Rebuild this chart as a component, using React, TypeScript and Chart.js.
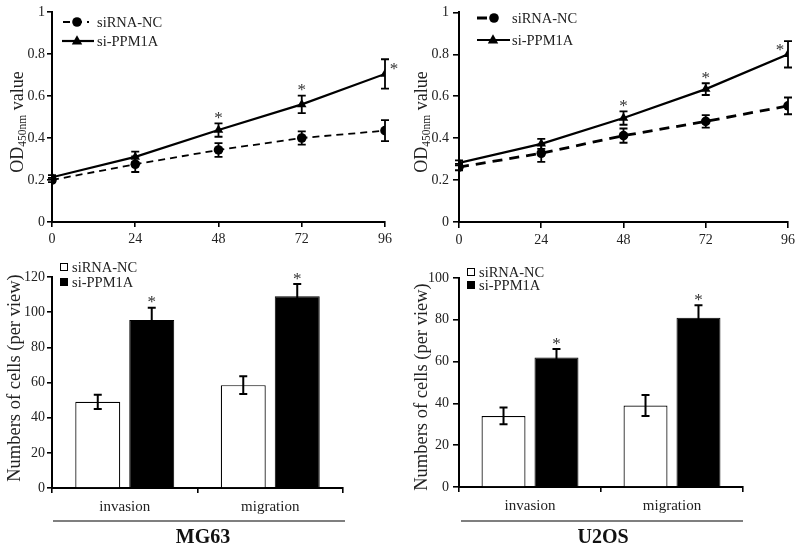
import React, { useEffect, useRef } from 'react';
import { Chart, registerables } from 'chart.js';

Chart.register(...registerables);

const FONT = "'Liberation Serif', 'Times New Roman', serif";
const TXT = '#222';

// ---------- Data: CCK-8 growth curves ----------
const hours = [0, 24, 48, 72, 96];
const hourTicks = ['0', '24', '48', '72', '96'];
const odTickValues = [0, 0.2, 0.4, 0.6, 0.8, 1];
const odTicks = ['0', '0.2', '0.4', '0.6', '0.8', '1'];
const seriesNames = ['siRNA-NC', 'si-PPM1A'];

const mg63NcOD = [0.2, 0.275, 0.343, 0.4, 0.435];
const mg63NcODErr = [0.01, 0.037, 0.033, 0.032, 0.05];
const mg63PpmOD = [0.213, 0.31, 0.438, 0.56, 0.705];
const mg63PpmODErr = [0.01, 0.025, 0.032, 0.042, 0.07];
const mg63ODSig = [false, false, true, true, true];

const u2osNcOD = [0.262, 0.328, 0.412, 0.48, 0.554];
const u2osNcODErr = [0.015, 0.041, 0.034, 0.03, 0.04];
const u2osPpmOD = [0.282, 0.373, 0.496, 0.634, 0.8];
const u2osPpmODErr = [0.012, 0.024, 0.032, 0.028, 0.063];
const u2osODSig = [false, false, true, true, true];

// ---------- Data: transwell ----------
const assays = ['invasion', 'migration'];
const mg63NcCells = [49, 58.5];
const mg63NcCellsErr = [4, 5];
const mg63PpmCells = [95.5, 109];
const mg63PpmCellsErr = [7, 7];
const mg63CellsSig = [true, true];

const u2osNcCells = [34, 39];
const u2osNcCellsErr = [4, 5];
const u2osPpmCells = [62, 81];
const u2osPpmCellsErr = [4, 6];
const u2osCellsSig = [true, true];

const cellLines = ['MG63', 'U2OS'];

// ---------- drawing helpers ----------
type Part = { text: string; size: number; shift?: number };

function drawRotatedTitle(ctx: CanvasRenderingContext2D, cx: number, cy: number, parts: Part[]) {
  ctx.save();
  ctx.translate(cx, cy);
  ctx.rotate(-Math.PI / 2);
  ctx.fillStyle = TXT;
  ctx.textAlign = 'left';
  ctx.textBaseline = 'alphabetic';
  let total = 0;
  const widths = parts.map((p) => {
    ctx.font = `${p.size}px ${FONT}`;
    const w = ctx.measureText(p.text).width;
    total += w;
    return w;
  });
  const base = parts[0].size * 0.34;
  let x = -total / 2;
  parts.forEach((p, i) => {
    ctx.font = `${p.size}px ${FONT}`;
    ctx.fillText(p.text, x, base + (p.shift || 0));
    x += widths[i];
  });
  ctx.restore();
}

function drawMarker(ctx: CanvasRenderingContext2D, kind: string, x: number, y: number, r: number) {
  ctx.fillStyle = '#000';
  ctx.beginPath();
  if (kind === 'circle') {
    ctx.arc(x, y, r, 0, Math.PI * 2);
  } else {
    ctx.moveTo(x, y - r * 1.1);
    ctx.lineTo(x - r, y + r * 0.65);
    ctx.lineTo(x + r, y + r * 0.65);
    ctx.closePath();
  }
  ctx.fill();
}

function drawErrBar(ctx: CanvasRenderingContext2D, x: number, yTop: number, yBot: number, cap: number, lw: number) {
  ctx.save();
  ctx.strokeStyle = '#000';
  ctx.lineWidth = lw;
  ctx.setLineDash([]);
  ctx.beginPath();
  ctx.moveTo(x, yTop);
  ctx.lineTo(x, yBot);
  ctx.moveTo(x - cap / 2, yTop);
  ctx.lineTo(x + cap / 2, yTop);
  ctx.moveTo(x - cap / 2, yBot);
  ctx.lineTo(x + cap / 2, yBot);
  ctx.stroke();
  ctx.restore();
}

function drawStar(ctx: CanvasRenderingContext2D, x: number, y: number) {
  ctx.save();
  ctx.fillStyle = '#333';
  ctx.font = `17px ${FONT}`;
  ctx.textAlign = 'center';
  ctx.textBaseline = 'middle';
  ctx.fillText('*', x, y + 3);
  ctx.restore();
}

// ---------- Line chart config ----------
type LegendRow = { y: number; x0: number; x1: number; mx: number; tx: number };
type LineParams = {
  nc: number[]; ncErr: number[]; ppm: number[]; ppmErr: number[]; sig: boolean[];
  padTop: number; yWidth: number; padRight: number; xHeight: number;
  tickLen: number; tickPad: number;
  ncWidth: number; ncDash: number[];
  titleX: number; titleY: number;
  legend: LegendRow[];
  lastStar: { dx: number; dy: number };
};

function lineConfig(p: LineParams): any {
  const axisCommon = {
    grid: { display: true, drawOnChartArea: false, drawTicks: true, tickLength: p.tickLen, color: '#000', lineWidth: 1.6 },
    border: { display: true, color: '#000', width: 2 },
  };
  const plugin = {
    id: 'decor',
    afterDatasetsDraw(chart: any) {
      const ctx: CanvasRenderingContext2D = chart.ctx;
      const ys = chart.scales.y;
      const errs = [p.ncErr, p.ppmErr];
      const vals = [p.nc, p.ppm];
      [0, 1].forEach((di) => {
        const meta = chart.getDatasetMeta(di);
        meta.data.forEach((el: any, i: number) => {
          const yt = ys.getPixelForValue(vals[di][i] + errs[di][i]);
          const yb = ys.getPixelForValue(vals[di][i] - errs[di][i]);
          drawErrBar(ctx, el.x, yt, yb, 8, 1.8);
        });
      });
      const meta = chart.getDatasetMeta(1);
      meta.data.forEach((el: any, i: number) => {
        if (!p.sig[i]) return;
        if (i === meta.data.length - 1) {
          drawStar(ctx, el.x + p.lastStar.dx, el.y + p.lastStar.dy);
        } else {
          const yt = ys.getPixelForValue(p.ppm[i] + p.ppmErr[i]);
          drawStar(ctx, el.x, yt - 8);
        }
      });
      // legend
      const kinds = ['circle', 'triangle'];
      p.legend.forEach((row, k) => {
        ctx.save();
        ctx.strokeStyle = '#000';
        ctx.lineWidth = k === 0 ? p.ncWidth : 2.2;
        ctx.setLineDash(k === 0 ? p.ncDash : []);
        ctx.beginPath();
        ctx.moveTo(row.x0, row.y);
        ctx.lineTo(row.x1, row.y);
        ctx.stroke();
        ctx.setLineDash([]);
        drawMarker(ctx, kinds[k], row.mx, row.y, k === 0 ? 4.8 : 5.2);
        ctx.fillStyle = TXT;
        ctx.font = `14.5px ${FONT}`;
        ctx.textAlign = 'left';
        ctx.textBaseline = 'middle';
        ctx.fillText(seriesNames[k], row.tx, row.y + 1);
        ctx.restore();
      });
      drawRotatedTitle(ctx, p.titleX, p.titleY, [
        { text: 'OD', size: 18 },
        { text: '450nm', size: 11.5, shift: 3 },
        { text: ' value', size: 18 },
      ]);
    },
  };
  return {
    type: 'line',
    data: {
      datasets: [
        {
          label: seriesNames[0],
          data: hours.map((h, i) => ({ x: h, y: p.nc[i] })),
          borderColor: '#000', borderWidth: p.ncWidth, borderDash: p.ncDash,
          pointStyle: 'circle', pointRadius: 4.8, pointBackgroundColor: '#000', pointBorderColor: '#000', pointBorderWidth: 0,
          tension: 0, fill: false,
        },
        {
          label: seriesNames[1],
          data: hours.map((h, i) => ({ x: h, y: p.ppm[i] })),
          borderColor: '#000', borderWidth: 2.2,
          pointStyle: 'triangle', pointRadius: 5.5, pointBackgroundColor: '#000', pointBorderColor: '#000', pointBorderWidth: 0,
          tension: 0, fill: false,
        },
      ],
    },
    options: {
      responsive: false,
      animation: false,
      events: [],
      layout: { padding: { top: p.padTop, right: p.padRight, left: 0, bottom: 0 } },
      plugins: { legend: { display: false }, tooltip: { enabled: false } },
      scales: {
        x: {
          type: 'linear', min: 0, max: 96, offset: false,
          ticks: {
            stepSize: 24, color: TXT, font: { family: FONT, size: 14 }, padding: 4, maxRotation: 0,
            callback: (v: number) => { const k = hours.indexOf(v); return k >= 0 ? hourTicks[k] : ''; },
          },
          ...axisCommon,
          afterFit: (s: any) => { s.height = p.xHeight; },
        },
        y: {
          type: 'linear', min: 0, max: 1,
          ticks: {
            stepSize: 0.2, color: TXT, font: { family: FONT, size: 14 }, padding: p.tickPad,
            callback: (v: number) => {
              const k = odTickValues.findIndex((t) => Math.abs(t - v) < 1e-6);
              return k >= 0 ? odTicks[k] : '';
            },
          },
          ...axisCommon,
          afterFit: (s: any) => { s.width = p.yWidth; },
        },
      },
    },
    plugins: [plugin],
  };
}

// ---------- Bar chart config ----------
type BarParams = {
  nc: number[]; ncErr: number[]; ppm: number[]; ppmErr: number[]; sig: boolean[];
  yMax: number; group: string;
  padTop: number; yWidth: number; padRight: number; xHeight: number;
  tickLen: number; tickPad: number;
  catPct: number; barPct: number;
  titleX: number; titleY: number;
  legendX: number; legendY: number[];
  lineX0: number; lineX1: number; lineY: number; groupX: number; groupY: number;
};

function barConfig(p: BarParams): any {
  const axisCommon = {
    border: { display: true, color: '#000', width: 2 },
  };
  const plugin = {
    id: 'decorBar',
    afterDatasetsDraw(chart: any) {
      const ctx: CanvasRenderingContext2D = chart.ctx;
      const ys = chart.scales.y;
      const errs = [p.ncErr, p.ppmErr];
      const vals = [p.nc, p.ppm];
      [0, 1].forEach((di) => {
        chart.getDatasetMeta(di).data.forEach((el: any, i: number) => {
          const yt = ys.getPixelForValue(vals[di][i] + errs[di][i]);
          const yb = ys.getPixelForValue(vals[di][i] - errs[di][i]);
          drawErrBar(ctx, el.x, yt, yb, 8, 2);
          if (di === 1 && p.sig[i]) drawStar(ctx, el.x, yt - 8);
        });
      });
      // legend
      p.legendY.forEach((y, k) => {
        ctx.save();
        ctx.fillStyle = k === 0 ? '#fff' : '#000';
        ctx.strokeStyle = '#000';
        ctx.lineWidth = 1;
        ctx.fillRect(p.legendX, y - 4, 8, 8);
        ctx.strokeRect(p.legendX + 0.5, y - 3.5, 7, 7);
        ctx.fillStyle = TXT;
        ctx.font = `14.5px ${FONT}`;
        ctx.textAlign = 'left';
        ctx.textBaseline = 'middle';
        ctx.fillText(seriesNames[k], p.legendX + 12, y + 1);
        ctx.restore();
      });
      // group underline + name
      ctx.save();
      ctx.strokeStyle = '#555';
      ctx.lineWidth = 1.5;
      ctx.beginPath();
      ctx.moveTo(p.lineX0, p.lineY);
      ctx.lineTo(p.lineX1, p.lineY);
      ctx.stroke();
      ctx.fillStyle = '#111';
      ctx.font = `bold 20px ${FONT}`;
      ctx.textAlign = 'center';
      ctx.textBaseline = 'middle';
      ctx.fillText(p.group, p.groupX, p.groupY);
      ctx.restore();
      drawRotatedTitle(ctx, p.titleX, p.titleY, [{ text: 'Numbers of cells (per view)', size: 18.5 }]);
    },
  };
  return {
    type: 'bar',
    data: {
      labels: assays,
      datasets: [
        { label: seriesNames[0], data: p.nc, backgroundColor: '#fff', borderColor: '#000', borderWidth: 1.2,
          categoryPercentage: p.catPct, barPercentage: p.barPct },
        { label: seriesNames[1], data: p.ppm, backgroundColor: '#000', borderColor: '#000', borderWidth: 1,
          categoryPercentage: p.catPct, barPercentage: p.barPct },
      ],
    },
    options: {
      responsive: false,
      animation: false,
      events: [],
      layout: { padding: { top: p.padTop, right: p.padRight, left: 0, bottom: 0 } },
      plugins: { legend: { display: false }, tooltip: { enabled: false } },
      scales: {
        x: {
          type: 'category', offset: true,
          grid: { display: true, offset: true, drawOnChartArea: false, drawTicks: true, tickLength: 5, color: '#000', lineWidth: 1.6 },
          ticks: { color: TXT, font: { family: FONT, size: 15 }, padding: 5, maxRotation: 0 },
          ...axisCommon,
          afterFit: (s: any) => { s.height = p.xHeight; },
        },
        y: {
          type: 'linear', min: 0, max: p.yMax,
          grid: { display: true, drawOnChartArea: false, drawTicks: true, tickLength: p.tickLen, color: '#000', lineWidth: 1.6 },
          ticks: { stepSize: 20, color: TXT, font: { family: FONT, size: 14 }, padding: p.tickPad },
          ...axisCommon,
          afterFit: (s: any) => { s.width = p.yWidth; },
        },
      },
    },
    plugins: [plugin],
  };
}

// ---------- Components ----------
function ChartCanvas(props: { make: () => any; left: number; top: number; width: number; height: number }) {
  const ref = useRef<HTMLCanvasElement>(null);
  useEffect(() => {
    const chart = new Chart(ref.current as HTMLCanvasElement, props.make());
    return () => chart.destroy();
  }, []);
  return (
    <canvas
      ref={ref}
      width={props.width}
      height={props.height}
      style={{ position: 'absolute', left: props.left, top: props.top, width: props.width, height: props.height }}
    />
  );
}

const makeA = () =>
  lineConfig({
    nc: mg63NcOD, ncErr: mg63NcODErr, ppm: mg63PpmOD, ppmErr: mg63PpmODErr, sig: mg63ODSig,
    padTop: 12, yWidth: 52, padRight: 15, xHeight: 28, tickLen: 5, tickPad: 2,
    ncWidth: 1.8, ncDash: [7, 5],
    titleX: 17, titleY: 122,
    legend: [
      { y: 22, x0: 63, x1: 89, mx: 77, tx: 97 },
      { y: 41, x0: 62, x1: 94, mx: 77, tx: 97 },
    ],
    lastStar: { dx: 9, dy: -7 },
  });

const makeB = () =>
  lineConfig({
    nc: u2osNcOD, ncErr: u2osNcODErr, ppm: u2osPpmOD, ppmErr: u2osPpmODErr, sig: u2osODSig,
    padTop: 11, yWidth: 59, padRight: 12, xHeight: 28, tickLen: 6, tickPad: 4,
    ncWidth: 2.8, ncDash: [10, 7],
    titleX: 21, titleY: 122,
    legend: [
      { y: 18, x0: 77, x1: 98, mx: 94, tx: 112 },
      { y: 40, x0: 77, x1: 110, mx: 93, tx: 112 },
    ],
    lastStar: { dx: -8, dy: -7 },
  });

const makeC = () =>
  barConfig({
    nc: mg63NcCells, ncErr: mg63NcCellsErr, ppm: mg63PpmCells, ppmErr: mg63PpmCellsErr, sig: mg63CellsSig,
    yMax: 120, group: cellLines[0],
    padTop: 27, yWidth: 52, padRight: 57, xHeight: 63, tickLen: 5, tickPad: 2,
    catPct: 0.742, barPct: 0.833,
    titleX: 14, titleY: 128,
    legendX: 60, legendY: [17, 32],
    lineX0: 53, lineX1: 345, lineY: 271, groupX: 203, groupY: 288,
  });

const makeD = () =>
  barConfig({
    nc: u2osNcCells, ncErr: u2osNcCellsErr, ppm: u2osPpmCells, ppmErr: u2osPpmCellsErr, sig: u2osCellsSig,
    yMax: 100, group: cellLines[1],
    padTop: 28, yWidth: 59, padRight: 57, xHeight: 64, tickLen: 6, tickPad: 4,
    catPct: 0.746, barPct: 0.83,
    titleX: 21, titleY: 137,
    legendX: 67, legendY: [22, 35],
    lineX0: 61, lineX1: 343, lineY: 271, groupX: 203, groupY: 288,
  });

export default function App() {
  return (
    <div style={{ position: 'absolute', left: 0, top: 0, width: 800, height: 551, background: '#fff', overflow: 'hidden' }}>
      <ChartCanvas make={makeA} left={0} top={0} width={400} height={250} />
      <ChartCanvas make={makeB} left={400} top={0} width={400} height={250} />
      <ChartCanvas make={makeC} left={0} top={250} width={400} height={301} />
      <ChartCanvas make={makeD} left={400} top={250} width={400} height={301} />
    </div>
  );
}
